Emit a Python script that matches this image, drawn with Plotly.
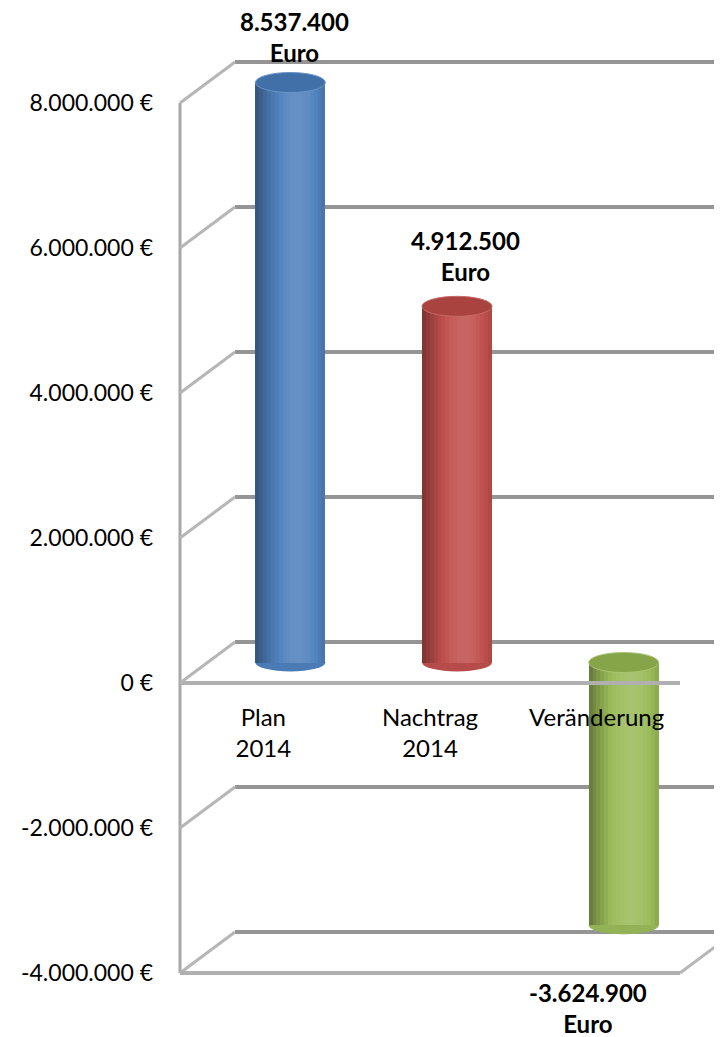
import math
import plotly.graph_objects as go

# ---------------- data ----------------
CATEGORIES = ["Plan<br>2014", "Nachtrag<br>2014", "Veränderung"]
VALUES = [8537400, 4912500, -3624900]
DATA_LABELS = ["8.537.400<br>Euro", "4.912.500<br>Euro", "-3.624.900<br>Euro"]
TICK_VALUES = [-4000000, -2000000, 0, 2000000, 4000000, 6000000, 8000000]
TICK_LABELS = ["-4.000.000 €", "-2.000.000 €", "0 €", "2.000.000 €",
               "4.000.000 €", "6.000.000 €", "8.000.000 €"]

# ---------------- styles ----------------
BAR_COLORS = ["#4F81BD", "#C0504D", "#9BBB59"]
CAP_COLORS = ["#416FA8", "#A94340", "#85A548"]
LABEL_XSHIFT = [4, 8, -36]
LABEL_YSHIFT = [14, 18, -51]

PAGE_OFFSET = 8            # default body margin of the html page
W, H = 722 - PAGE_OFFSET, 1037 - PAGE_OFFSET
L = 180 - PAGE_OFFSET
PW = W - L
PX_PER_UNIT = 72.5 / 1e6
FRONT_ZERO = 683 - PAGE_OFFSET
MID_DX, MID_ZERO = 27, 662.5 - PAGE_OFFSET
BACK_DX, BACK_ZERO = 55, 642 - PAGE_OFFSET
DEPTH_DY = FRONT_ZERO - BACK_ZERO
FRONT_WIDTH = 500
BAR_W = 0.42
N_STRIPS = 18
AXIS_MAX = max(TICK_VALUES)
AXIS_MIN = min(TICK_VALUES)


def yrange(zero_px):
    return [-(H - zero_px) / PX_PER_UNIT, zero_px / PX_PER_UNIT]


def mix(hex_color, factor):
    r, g, b = (int(hex_color[i:i + 2], 16) for i in (1, 3, 5))
    if factor >= 0:
        r, g, b = (c + (255 - c) * factor for c in (r, g, b))
    else:
        r, g, b = (c * (1 + factor) for c in (r, g, b))
    return "rgb(%d,%d,%d)" % (round(r), round(g), round(b))


def shade(u):
    return -0.36 + 0.48 * math.cos(math.pi * (u - 0.6) / 1.2)


xs = list(range(len(CATEGORIES)))
shown = [min(max(v, AXIS_MIN), AXIS_MAX) for v in VALUES]

fig = go.Figure()

# back wall subplot (x / y): gridlines only
fig.add_trace(go.Scatter(x=[None], y=[None], xaxis="x", yaxis="y",
                         showlegend=False, hoverinfo="skip"))

# cylinder bodies (x2 / y2) as shaded strips
strip_w = BAR_W / N_STRIPS
for k in range(N_STRIPS):
    u = (k + 0.5) / N_STRIPS
    fig.add_trace(go.Bar(
        x=xs, y=shown, xaxis="x2", yaxis="y2",
        offset=-BAR_W / 2 + k * strip_w,
        width=strip_w * (1.0 if k == N_STRIPS - 1 else 1.15),
        marker=dict(color=[mix(c, shade(u)) for c in BAR_COLORS],
                    line=dict(width=0)),
        showlegend=False, hoverinfo="skip",
    ))

# front plane subplot (x3 / y3)
fig.add_trace(go.Scatter(x=[None], y=[None], xaxis="x3", yaxis="y3",
                         showlegend=False, hoverinfo="skip"))

shapes = []
# cylinder caps and rounded ends
for i, v in enumerate(shown):
    top = max(v, 0)
    bottom = min(v, 0)
    shapes.append(dict(type="circle", xref="x2", yref="y2",
                       x0=i - BAR_W / 2, x1=i + BAR_W / 2,
                       ysizemode="pixel", yanchor=bottom, y0=-9, y1=9,
                       fillcolor=mix(BAR_COLORS[i], -0.05),
                       line=dict(width=0), layer="below"))
    shapes.append(dict(type="circle", xref="x2", yref="y2",
                       x0=i - BAR_W / 2, x1=i + BAR_W / 2,
                       ysizemode="pixel", yanchor=top, y0=-10, y1=10,
                       fillcolor=CAP_COLORS[i],
                       line=dict(width=1, color=mix(BAR_COLORS[i], 0.15)),
                       layer="above"))

# left side-wall edge
shapes.append(dict(type="line", xref="paper", yref="y3", x0=0, x1=0,
                   y0=AXIS_MIN, y1=AXIS_MAX,
                   line=dict(color="#a8a8a8", width=3)))
# side-wall diagonals
for t in TICK_VALUES:
    shapes.append(dict(type="line", xref="paper", yref="y3",
                       xsizemode="pixel", xanchor=0, x0=0, x1=BACK_DX,
                       ysizemode="pixel", yanchor=t, y0=0, y1=DEPTH_DY,
                       line=dict(color="#b6b6b6", width=3)))
# floor front edge and right diagonal
shapes.append(dict(type="line", xref="x3 domain", yref="y3", x0=0, x1=1,
                   y0=AXIS_MIN, y1=AXIS_MIN,
                   line=dict(color="#b0b0b0", width=4)))
shapes.append(dict(type="line", xref="paper", yref="y3",
                   xsizemode="pixel", xanchor=FRONT_WIDTH / PW, x0=0, x1=BACK_DX,
                   ysizemode="pixel", yanchor=AXIS_MIN, y0=0, y1=DEPTH_DY,
                   line=dict(color="#b6b6b6", width=3)))

annotations = []
for i, (v, txt) in enumerate(zip(shown, DATA_LABELS)):
    annotations.append(dict(
        x=xs[i], y=v, xref="x2", yref="y2", text=txt, showarrow=False,
        yanchor="bottom" if v >= 0 else "top",
        xshift=LABEL_XSHIFT[i], yshift=LABEL_YSHIFT[i],
        font=dict(family="Lato", size=24, color="#000000", weight="bold"),
    ))

hidden = dict(showgrid=False, zeroline=False, showticklabels=False,
              showline=False, ticks="", automargin=False)

fig.update_layout(
    width=W, height=H,
    margin=dict(l=L, r=0, t=0, b=0),
    paper_bgcolor="white", plot_bgcolor="rgba(0,0,0,0)",
    barmode="overlay", bargap=0,
    showlegend=False,
    shapes=shapes, annotations=annotations,
    xaxis=dict(domain=[BACK_DX / PW, 1], range=[-0.5, 2.5], anchor="y", **hidden),
    yaxis=dict(range=yrange(BACK_ZERO), anchor="x", showgrid=True,
               gridcolor="#959595", gridwidth=4, tickvals=TICK_VALUES,
               zeroline=False, showticklabels=False, showline=False,
               ticks="", automargin=False),
    xaxis2=dict(domain=[MID_DX / PW, (MID_DX + FRONT_WIDTH) / PW],
                range=[-0.5, 2.5], anchor="y2", **hidden),
    yaxis2=dict(range=yrange(MID_ZERO), anchor="x2", **hidden),
    xaxis3=dict(domain=[0, FRONT_WIDTH / PW], range=[-0.5, 2.5],
                anchor="free", position=(H - FRONT_ZERO) / H,
                tickvals=xs, ticktext=CATEGORIES, ticks="",
                showline=True, linecolor="#b0b0b0", linewidth=4,
                showgrid=False, zeroline=False, ticklabelstandoff=12,
                tickfont=dict(family="Lato", size=24, color="#000000"),
                automargin=False),
    yaxis3=dict(range=yrange(FRONT_ZERO), anchor="x3",
                tickvals=TICK_VALUES, ticktext=TICK_LABELS, ticks="",
                showgrid=False, zeroline=False, showline=False,
                ticklabelstandoff=26,
                tickfont=dict(family="Lato", size=23, color="#000000"),
                automargin=False),
)

fig.write_html("out.html")
